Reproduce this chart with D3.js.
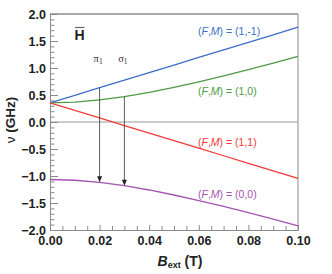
<!DOCTYPE html>
<html><head><meta charset="utf-8">
<script src="https://cdn.jsdelivr.net/npm/d3@7"></script>
<style>body{margin:0;background:#fff}svg{display:block}</style>
</head><body>
<script>
// ---- data ----
const B = [0, 0.01, 0.02, 0.03, 0.04, 0.05, 0.06, 0.07, 0.08, 0.09, 0.10];
const nu_1m1 = [0.355, 0.495, 0.635, 0.775, 0.915, 1.055, 1.195, 1.335, 1.475, 1.615, 1.755];
const nu_10  = [0.355, 0.369, 0.408, 0.470, 0.549, 0.642, 0.744, 0.854, 0.970, 1.090, 1.214];
const nu_11  = [0.355, 0.215, 0.075, -0.065, -0.205, -0.345, -0.485, -0.625, -0.765, -0.905, -1.045];
const nu_00  = [-1.065, -1.079, -1.118, -1.180, -1.259, -1.352, -1.454, -1.564, -1.680, -1.800, -1.924];
const seriesNames = ["(1,-1)", "(1,0)", "(1,1)", "(0,0)"];
const seriesColors = ["#3b6ec6", "#4f9a45", "#f23a3a", "#a552b3"];
const xTicks = [0, 0.02, 0.04, 0.06, 0.08, 0.10];
const yTicks = [-2.0, -1.5, -1.0, -0.5, 0.0, 0.5, 1.0, 1.5, 2.0];
// transitions: label, field index, upper series, lower series
const transLabels = ["\u03c0", "\u03c3"];
const transIndex = [2, 3];
const transFrom = [0, 1];
const transTo = [3, 3];

const series = [nu_1m1, nu_10, nu_11, nu_00];

const W = 332, H = 274;
const svg = d3.select("body").append("svg").attr("width", W).attr("height", H);
const x = d3.scaleLinear().domain([0, 0.1]).range([50, 298]);
const y = d3.scaleLinear().domain([-2, 2]).range([230, 14]);
const axisCol = "#8a8a8a";
const font = "'Liberation Sans', Arial, Helvetica, sans-serif";

// zero line
svg.append("line").attr("x1", x(0)).attr("x2", x(0.1)).attr("y1", y(0)).attr("y2", y(0))
  .attr("stroke", "#9a9a9a").attr("stroke-width", 1);

// frame
svg.append("line").attr("x1", x(0)).attr("x2", x(0.1)).attr("y1", y(2)).attr("y2", y(2))
  .attr("stroke", "#555").attr("stroke-width", 1);
svg.append("line").attr("x1", x(0.1)).attr("x2", x(0.1)).attr("y1", y(2)).attr("y2", y(-2))
  .attr("stroke", axisCol).attr("stroke-width", 1);

// y axis (ticks inward)
const yMinor = d3.range(-20, 21).map(d => d / 10).filter(v => Math.abs(v * 2 - Math.round(v * 2)) > 1e-6);
const gy = svg.append("g").attr("transform", `translate(${x(0)},0)`);
gy.call(d3.axisLeft(y).tickValues(yTicks).tickSize(-8).tickPadding(12).tickFormat(d3.format(".1f")));
const gyMinor = svg.append("g").attr("transform", `translate(${x(0)},0)`);
gyMinor.call(d3.axisLeft(y).tickValues(yMinor).tickSize(-4.5).tickFormat(""));
[gy, gyMinor].forEach(g => {
  g.selectAll("path,line").attr("stroke", axisCol);
});
gyMinor.select("path").remove();
gy.selectAll("text").attr("font-family", font).attr("font-size", 12.5).attr("font-weight", "bold")
  .attr("fill", "#222").attr("x", -4);

// x axis
const xMinor = d3.range(0, 21).map(d => d * 0.005).filter(v => Math.abs(v / 0.02 - Math.round(v / 0.02)) > 1e-6);
const gx = svg.append("g").attr("transform", `translate(0,${y(-2)})`);
gx.call(d3.axisBottom(x).tickValues(xTicks).tickSize(-5).tickPadding(10).tickFormat(d3.format(".2f")));
const gxMinor = svg.append("g").attr("transform", `translate(0,${y(-2)})`);
gxMinor.call(d3.axisBottom(x).tickValues(xMinor).tickSize(-4).tickFormat(""));
[gx, gxMinor].forEach(g => g.selectAll("path,line").attr("stroke", axisCol));
gxMinor.select("path").remove();
gx.selectAll("text").attr("font-family", font).attr("font-size", 12.5).attr("font-weight", "bold")
  .attr("fill", "#222").attr("y", 6);

// lines
const line = d3.line().x((d, i) => x(B[i])).y(d => y(d));
series.forEach((s, k) => {
  svg.append("path").attr("d", line(s)).attr("fill", "none")
    .attr("stroke", seriesColors[k]).attr("stroke-width", 1.3);
});

// transitions
transLabels.forEach((lab, t) => {
  const i = transIndex[t];
  const xv = x(B[i]);
  const y1 = y(series[transFrom[t]][i]);
  const y2 = y(series[transTo[t]][i]);
  svg.append("line").attr("x1", xv).attr("x2", xv).attr("y1", y1).attr("y2", y2 - 5)
    .attr("stroke", "#333").attr("stroke-width", 0.8);
  svg.append("path").attr("d", `M${xv - 2.5},${y2 - 6} L${xv + 2.5},${y2 - 6} L${xv},${y2} Z`)
    .attr("fill", "#222");
  const tx = svg.append("text").attr("x", xv - 1.5).attr("y", 62).attr("text-anchor", "middle")
    .attr("font-family", "'Liberation Serif', 'Times New Roman', serif").attr("font-size", 10.5).attr("fill", "#333");
  tx.append("tspan").text(lab);
  tx.append("tspan").attr("font-size", 7.5).attr("dy", 2).text("1");
});

// series labels
const labelY = [35, 95, 146, 198];
seriesNames.forEach((n, k) => {
  const t = svg.append("text").attr("x", 198).attr("y", labelY[k])
    .attr("font-family", font).attr("font-size", 10.5).attr("fill", seriesColors[k]);
  t.append("tspan").text("(");
  t.append("tspan").attr("font-style", "italic").text("F");
  t.append("tspan").text(",");
  t.append("tspan").attr("font-style", "italic").text("M");
  t.append("tspan").text(") = " + n);
});

// H-bar label
svg.append("text").attr("x", 79.5).attr("y", 40).attr("text-anchor", "middle")
  .attr("font-family", font).attr("font-size", 14).attr("font-weight", "bold").attr("fill", "#222").text("H");
svg.append("line").attr("x1", 75).attr("x2", 84.5).attr("y1", 27.5).attr("y2", 27.5)
  .attr("stroke", "#666").attr("stroke-width", 1.2);

// axis titles
const xt = svg.append("text").attr("x", 180).attr("y", 266).attr("text-anchor", "middle")
  .attr("font-family", font).attr("font-weight", "bold").attr("fill", "#222").attr("font-size", 14);
xt.append("tspan").attr("font-style", "italic").text("B");
xt.append("tspan").attr("font-size", 9).attr("dy", 2).text("ext");
xt.append("tspan").attr("dy", -2).text(" (T)");

const yt = svg.append("text").attr("transform", `translate(15,120) rotate(-90)`).attr("text-anchor", "middle")
  .attr("font-family", font).attr("fill", "#222").attr("font-size", 13.5);
yt.append("tspan").text("\u03bd ");
yt.append("tspan").attr("font-weight", "bold").text("(GHz)");
</script>
</body></html>
